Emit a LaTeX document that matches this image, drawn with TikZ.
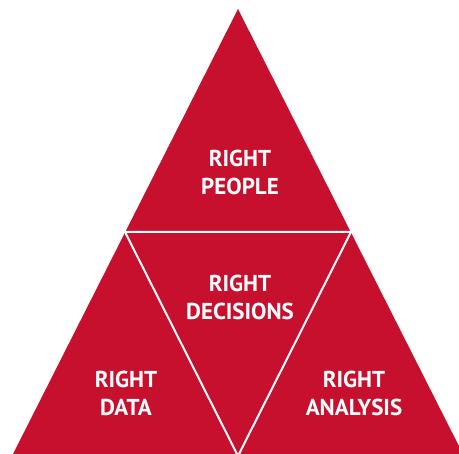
\documentclass[tikz,border=0pt]{standalone}
\usepackage{fontspec}
\setmainfont{PT Sans}
\usetikzlibrary{positioning}
\definecolor{pyrRed}{RGB}{198,16,46}
\tikzset{
  pyrlabel/.style={
    text=white,
    align=center,
    inner sep=0pt,
    font=\bfseries\fontsize{23}{28}\selectfont
  },
  divider/.style={white, line width=2pt, line join=miter}
}

\begin{document}
\begin{tikzpicture}[x=1pt, y=-1pt]
    \useasboundingbox (0,0) rectangle (459,454);
    \clip (0,0) rectangle (459,454);

    % outer corners and edge midpoints
    \coordinate (apex)  at (238,9);
    \coordinate (botL)  at (12,456);
    \coordinate (botR)  at (464,456);
    \coordinate (midL)  at (125,232);
    \coordinate (midR)  at (351,232);
    \coordinate (midB)  at (238,456);

    \fill[pyrRed] (apex) -- (botR) -- (botL) -- cycle;

    \draw[divider] (midL) -- (midR) -- (midB) -- cycle;

    \node[pyrlabel] (people)    at (240,172) {RIGHT\\PEOPLE};
    \node[pyrlabel] (decisions) at (240,297) {RIGHT\\DECISIONS};
    \node[pyrlabel] (data)      at (126,393) {RIGHT\\DATA};
    \node[pyrlabel] (analysis)  at (354,393) {RIGHT\\ANALYSIS};
\end{tikzpicture}
\end{document}
